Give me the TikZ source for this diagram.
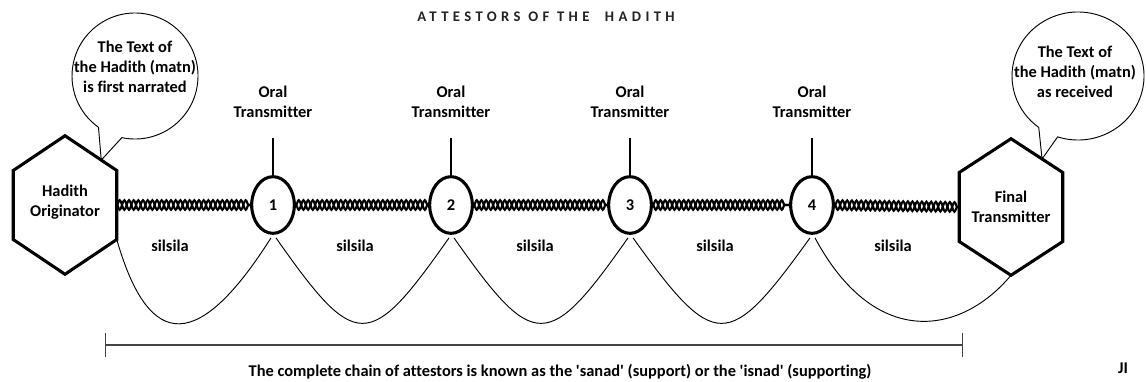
\documentclass[tikz,border=0pt]{standalone}
\usepackage{fontspec}
\setmainfont{Carlito}[Ligatures={NoCommon}]
\usetikzlibrary{positioning,arrows.meta,calc,shapes.geometric,decorations.pathmorphing}
\definecolor{rulerGray}{HTML}{444444}
\definecolor{titleInk}{HTML}{222222}
\newcommand{\hexof}[1]{%
  \coordinate (#1-ne) at ($(#1.east)+(0,-34.5)$);
  \coordinate (#1-se) at ($(#1.east)+(0,34.5)$);
  \coordinate (#1-sw) at ($(#1.west)+(0,34.5)$);
  \coordinate (#1-nw) at ($(#1.west)+(0,-34.5)$);
  \draw[hexline] (#1.north)--(#1-ne)--(#1-se)--(#1.south)--(#1-sw)--(#1-nw)--cycle;}
\newcommand{\rope}[2]{%
  \draw[ropeline,decoration={snake,amplitude=3.6pt,segment length=7pt}] (#1)--(#2);
  \draw[ropeline,decoration={snake,amplitude=3.6pt,segment length=7pt,mirror}] (#1)--(#2);}

\begin{document}
\begin{tikzpicture}[x=0.75pt,y=-0.75pt,font=\fontsize{12.3pt}{15pt}\selectfont\bfseries,
        hexbox/.style={minimum width=77.25pt,minimum height=103.5pt,inner sep=0pt,align=center},
        hexline/.style={line width=2.3pt,line join=miter},
        tnode/.style={ellipse,draw,line width=2.3pt,minimum width=32pt,minimum height=42.5pt,inner sep=0pt},
        oral/.style={align=center,inner sep=0pt},
        stem/.style={line width=0.8pt,shorten >=15pt},
        ropeline/.style={decorate,line width=1.6pt},
        sag/.style={line width=0.7pt},
        bubble/.style={line width=0.7pt},
        spanline/.style={{Bar[width=18pt]}-{Bar[width=18pt]},rulerGray,line width=1.1pt}]
        \useasboundingbox (0,0) rectangle (1146,382);
        \node[titleInk,font=\fontsize{11pt}{12pt}\selectfont\bfseries\addfontfeatures{LetterSpace=30}] (title) at (546,17) {ATTESTORS OF THE\ \ HADITH};
        \node[hexbox,text depth=7pt] (orig) at (65,205) {Hadith\\Originator};
        \hexof{orig}
        \node[hexbox,minimum height=102pt] (final) at (1011,207) {Final\\Transmitter};
        \hexof{final}
        \node[tnode] (t1) at (273,205) {1};
        \node[tnode] (t2) at (451,205) {2};
        \node[tnode] (t3) at (630,205) {3};
        \node[tnode] (t4) at (812,205) {4};
        \foreach \i in {1,...,4}{
          \node[oral,above=43pt of t\i] (o\i) {Oral\\Transmitter};
          \draw[stem] (t\i.north) -- (o\i.south);
        }
        \rope{orig.east}{t1.west}
        \rope{t1.east}{t2.west}
        \rope{t2.east}{t3.west}
        \rope{t3.east}{t4.west}
        \rope{t4.east}{final.west}
        \node (s1) at (170,246) {silsila};
        \node (s2) at (355,246) {silsila};
        \node (s3) at (535,246) {silsila};
        \node (s4) at (715,246) {silsila};
        \node (s5) at (893,246) {silsila};
        \draw[sag] (orig-se) .. controls +(33,115) and +(-71,112) .. ($(t1.south)+(-2,3)$);
        \draw[sag] ($(t1.south)+(3,3)$) .. controls +(80,114) and +(-80,114) .. ($(t2.south)+(-2,3)$);
        \draw[sag] ($(t2.south)+(3,3)$) .. controls +(80,114) and +(-80,114) .. ($(t3.south)+(-2,3)$);
        \draw[sag] ($(t3.south)+(3,3)$) .. controls +(82,114) and +(-82,114) .. ($(t4.south)+(-2,3)$);
        \draw[sag] ($(t4.south)+(3,3)$) .. controls +(60,112) and +(-50,60) .. (final.south);
        \node[align=center] (matn1) at (135,67) {The Text of\\the Hadith (matn)\\is first narrated};
        \node[align=center] (matn2) at (1075,72) {The Text of\\the Hadith (matn)\\as received};
        \coordinate (c1) at (135,76);
        \coordinate (c2) at (1078,76);
        \coordinate (tip1) at ($(orig.north)!0.7!(orig-ne)$);
        \coordinate (tip2) at ($(final.north)!0.6!(final-ne)$);
        \draw[bubble] ([shift={(102:63)}]c1) arc[start angle=102,end angle=-234.6,radius=63] -- (tip1) -- cycle;
        \draw[bubble] ([shift={(108:66 and 64)}]c2) arc[start angle=108,end angle=-233.5,x radius=66,y radius=64] -- (tip2) -- cycle;
        \coordinate (spanL) at (105,345);
        \coordinate (spanR) at (963,345);
        \draw[spanline] (spanL) -- (spanR);
        \node (chain) at (560,372) {The complete chain of attestors is known as the \textquotesingle sanad\textquotesingle{} (support) or the \textquotesingle isnad\textquotesingle{} (supporting)};
        \node (ji) at (1123,368) {JI};
      \end{tikzpicture}
\end{document}
